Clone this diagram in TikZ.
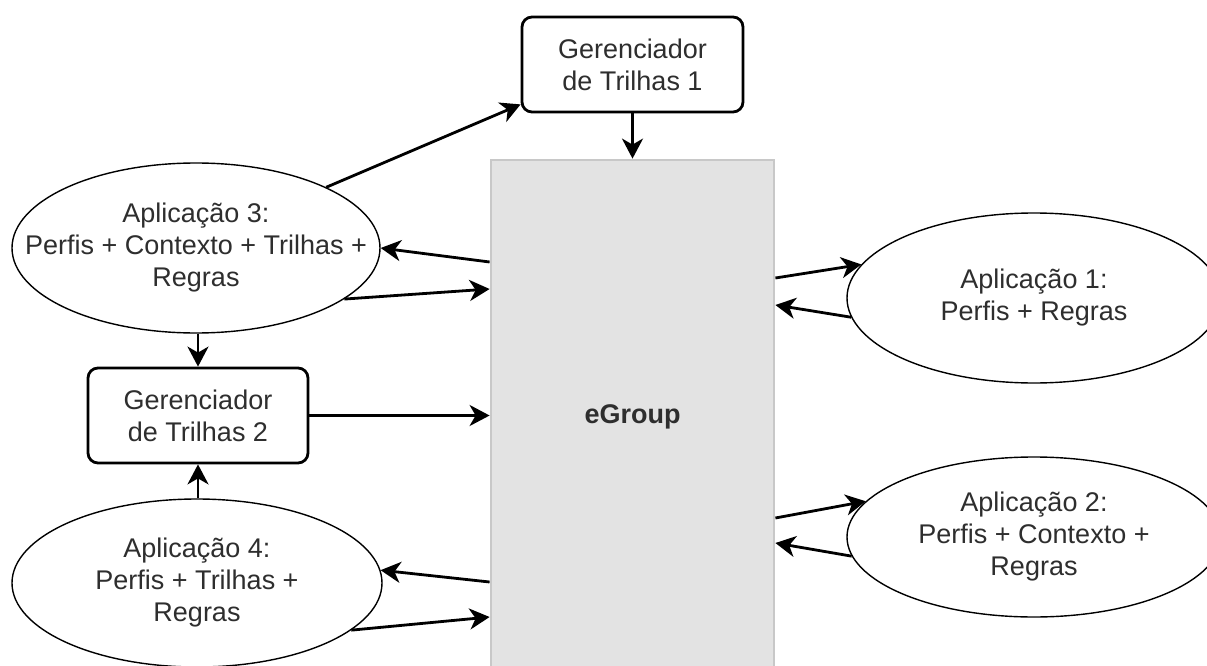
\documentclass[tikz,border=0pt]{standalone}
\usepackage{fontspec}
\setmainfont{Liberation Sans}
\usetikzlibrary{arrows.meta,shapes.geometric,calc}
\definecolor{txt}{HTML}{2E2E2E}
\definecolor{corefill}{HTML}{E3E3E3}
\definecolor{coreline}{HTML}{C8C8C8}
\begin{document}
\begin{tikzpicture}[x=1pt,y=-1pt,
  every node/.style={font=\fontsize{27}{32}\selectfont, text=txt, align=center, inner sep=0pt},
  app/.style={draw=black, line width=1.4pt, ellipse, fill=white},
  mgr/.style={draw=black, line width=2.8pt, rounded corners=10pt, fill=white},
  core/.style={draw=coreline, line width=2.8pt, fill=corefill},
  flow/.style={line width=2.8pt, -{Stealth[length=20pt,width=21pt,inset=6pt]}}
]
\useasboundingbox (0,0) rectangle (1207,666);

% central service
\node[core, minimum width=283pt, minimum height=514pt] (eg) at (632.5,417) {\textbf{eGroup}};

% track managers
\node[mgr, minimum width=221pt, minimum height=95pt] (g1) at (632.5,64.5) {Gerenciador\\de Trilhas 1};
\node[mgr, minimum width=220pt, minimum height=95pt] (g2) at (198,415.5) {Gerenciador\\de Trilhas 2};

% applications
\node[app, minimum width=368pt, minimum height=170pt,
  label={center:Aplicação 3:\\Perfis + Contexto + Trilhas +\\Regras}] (a3) at (196,248) {};
\node[app, minimum width=370pt, minimum height=168pt,
  label={center:Aplicação 4:\\Perfis + Trilhas +\\Regras}] (a4) at (197,583) {};
\node[app, minimum width=374pt, minimum height=170pt,
  label={center:Aplicação 1:\\Perfis + Regras}] (a1) at (1034,298) {};
\node[app, minimum width=374pt, minimum height=160pt,
  label={center:Aplicação 2:\\Perfis + Contexto +\\Regras}] (a2) at (1034,537) {};

% connectors
\draw[flow] (a3.25.3) -- ($(g1.south west)+(0,-9)$);
\draw[flow] (g1.south) -- (g1.south |- eg.north);
\draw[flow] ($(eg.west)+(0,-155)$) -- (a3.east);
\draw[flow] (a3.-19.5) -- ($(eg.west)+(0,-128)$);
\draw[flow] (g2.north |- a3.south) -- (g2.north);
\draw[flow] (g2.east) -- (g2.east -| eg.west);
\draw[flow] (g2.south |- a4.north) -- (g2.south);
\draw[flow] ($(eg.west)+(0,165)$) -- (a4.4);
\draw[flow] (a4.-17.5) -- ($(eg.west)+(0,200)$);
\draw[flow] ($(eg.east)+(0,-139)$) -- (a1.169.2);
\draw[flow] (a1.186.4) -- ($(eg.east)+(0,-112)$);
\draw[flow] ($(eg.east)+(0,101)$) -- (a2.168.8);
\draw[flow] (a2.186.8) -- ($(eg.east)+(0,126)$);
\end{tikzpicture}
\end{document}
